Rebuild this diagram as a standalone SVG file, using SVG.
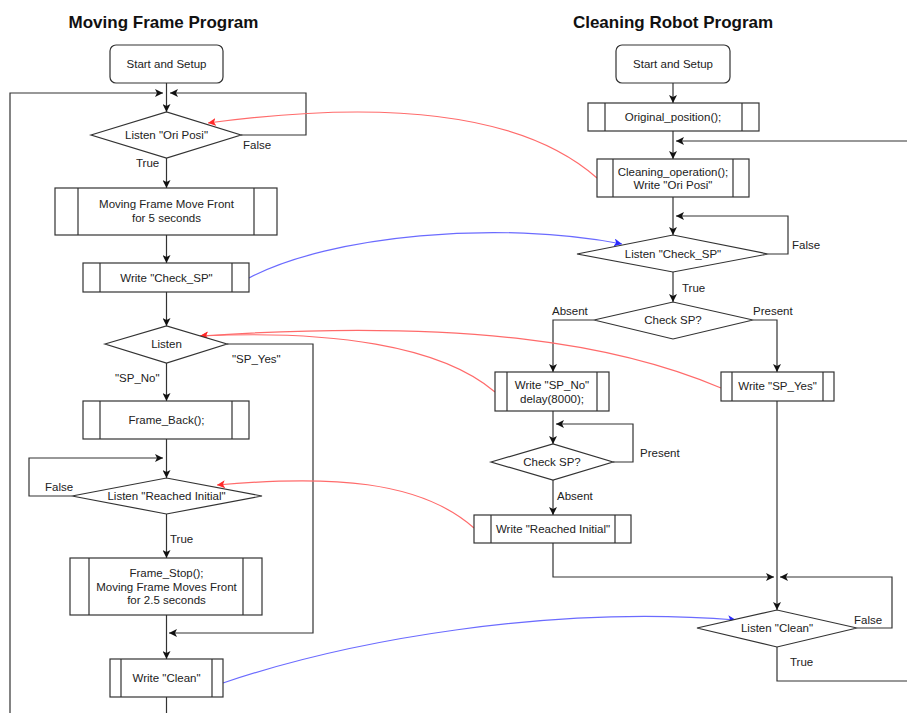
<svg xmlns="http://www.w3.org/2000/svg" width="907" height="713" viewBox="0 0 907 713">
  <style>
    .shape { fill: #ffffff; stroke: #333333; stroke-width: 1.2; }
    .bar { stroke: #333333; stroke-width: 1.2; fill: none; }
    .edge { fill: none; stroke: #333333; stroke-width: 1.2; }
    .lbl { font-family: "Liberation Sans", Arial, sans-serif; font-size: 11.5px; fill: #222222; }
    .mid { text-anchor: middle; }
    .title { font-family: "Liberation Sans", Arial, sans-serif; font-size: 17px; font-weight: bold; fill: #111111; text-anchor: middle; }
    .sig-red { fill: none; stroke: #ff6b6b; stroke-width: 1.2; }
    .sig-blue { fill: none; stroke: #6b6bff; stroke-width: 1.2; }
  </style>
  <defs>
    <marker id="arrow" viewBox="0 0 8 8" refX="8" refY="4" markerWidth="8" markerHeight="8" markerUnits="userSpaceOnUse" orient="auto">
      <path d="M0,0 L8,4 L0,8 L2,4 z" fill="#111111"/>
    </marker>
    <marker id="arrow-red" viewBox="0 0 8 8" refX="8" refY="4" markerWidth="8" markerHeight="8" markerUnits="userSpaceOnUse" orient="auto">
      <path d="M0,0 L8,4 L0,8 L2,4 z" fill="#ff2a2a"/>
    </marker>
    <marker id="arrow-blue" viewBox="0 0 8 8" refX="8" refY="4" markerWidth="8" markerHeight="8" markerUnits="userSpaceOnUse" orient="auto">
      <path d="M0,0 L8,4 L0,8 L2,4 z" fill="#2a2aff"/>
    </marker>
  </defs>

  <rect width="907" height="713" fill="#ffffff"/>

  <!-- titles -->
  <text class="title" x="163.5" y="28">Moving Frame Program</text>
  <text class="title" x="673" y="28">Cleaning Robot Program</text>

  <!-- flow connectors -->
  <g id="connectors">
    <!-- moving frame side -->
    <path class="edge" d="M166.5,83 V112" marker-end="url(#arrow)"/>
    <path class="edge" d="M10,720 V93 H163" marker-end="url(#arrow)"/>
    <path class="edge" d="M241,135 H306 V93 H170" marker-end="url(#arrow)"/>
    <path class="edge" d="M166.5,158 V188" marker-end="url(#arrow)"/>
    <path class="edge" d="M166.5,235 V263" marker-end="url(#arrow)"/>
    <path class="edge" d="M166.5,292 V326" marker-end="url(#arrow)"/>
    <path class="edge" d="M166.5,363 V401" marker-end="url(#arrow)"/>
    <path class="edge" d="M227,344 H313 V633 H169" marker-end="url(#arrow)"/>
    <path class="edge" d="M166.5,439 V478" marker-end="url(#arrow)"/>
    <path class="edge" d="M72,496 H29 V458 H163" marker-end="url(#arrow)"/>
    <path class="edge" d="M166.5,514 V558" marker-end="url(#arrow)"/>
    <path class="edge" d="M166.5,615 V659" marker-end="url(#arrow)"/>
    <path class="edge" d="M166.5,697 V720"/>

    <!-- cleaning robot side -->
    <path class="edge" d="M673,83 V103" marker-end="url(#arrow)"/>
    <path class="edge" d="M673,131 V159" marker-end="url(#arrow)"/>
    <path class="edge" d="M920,141 H676" marker-end="url(#arrow)"/>
    <path class="edge" d="M673,197 V235" marker-end="url(#arrow)"/>
    <path class="edge" d="M768,254 H788 V216 H676" marker-end="url(#arrow)"/>
    <path class="edge" d="M673,272 V302" marker-end="url(#arrow)"/>
    <path class="edge" d="M594,320 H553 V372" marker-end="url(#arrow)"/>
    <path class="edge" d="M753,320 H777 V372" marker-end="url(#arrow)"/>
    <path class="edge" d="M553,411 V444" marker-end="url(#arrow)"/>
    <path class="edge" d="M613,462 H633 V424 H556" marker-end="url(#arrow)"/>
    <path class="edge" d="M553,480 V515" marker-end="url(#arrow)"/>
    <path class="edge" d="M553,543 V577 H774" marker-end="url(#arrow)"/>
    <path class="edge" d="M777,401 V610" marker-end="url(#arrow)"/>
    <path class="edge" d="M857,628 H892 V577 H780" marker-end="url(#arrow)"/>
    <path class="edge" d="M777,647 V681 H920"/>

    <!-- messages between the two programs -->
    <path class="sig-red" d="M597,178 C520,110 380,100 208,123" marker-end="url(#arrow-red)"/>
    <path class="sig-blue" d="M249,278 C330,235 500,220 622,244" marker-end="url(#arrow-blue)"/>
    <path class="sig-red" d="M721,388 C620,345 470,318 200,336" marker-end="url(#arrow-red)"/>
    <path class="sig-red" d="M495,392 C440,345 330,330 200,336" marker-end="url(#arrow-red)"/>
    <path class="sig-red" d="M474,528 C420,480 330,475 217,485" marker-end="url(#arrow-red)"/>
    <path class="sig-blue" d="M223,683 C350,640 550,605 736,620" marker-end="url(#arrow-blue)"/>
  </g>

  <!-- branch labels -->
  <g id="edge-labels">
    <text class="lbl" x="243" y="149">False</text>
    <text class="lbl" x="136" y="167">True</text>
    <text class="lbl" x="232" y="363">"SP_Yes"</text>
    <text class="lbl" x="115" y="382">"SP_No"</text>
    <text class="lbl" x="45" y="491">False</text>
    <text class="lbl" x="170" y="543">True</text>
    <text class="lbl" x="792" y="249">False</text>
    <text class="lbl" x="682" y="292">True</text>
    <text class="lbl" x="552" y="315">Absent</text>
    <text class="lbl" x="753" y="315">Present</text>
    <text class="lbl" x="640" y="457">Present</text>
    <text class="lbl" x="557" y="500">Absent</text>
    <text class="lbl" x="854" y="624">False</text>
    <text class="lbl" x="790" y="666">True</text>
  </g>

  <!-- Moving Frame Program nodes -->
  <g id="mf-start">
    <rect class="shape" x="110" y="45" width="113" height="38" rx="6"/>
    <text class="lbl mid" x="166.5" y="68">Start and Setup</text>
  </g>
  <g id="mf-listen-ori">
    <polygon class="shape" points="91,135 166.5,112 241,135 166.5,158"/>
    <text class="lbl mid" x="166.5" y="139">Listen "Ori Posi"</text>
  </g>
  <g id="mf-move-front">
    <rect class="shape" x="55" y="188" width="222" height="47"/>
    <path class="bar" d="M78,188 V235 M254,188 V235"/>
    <text class="lbl mid" x="166.5" y="208">Moving Frame Move Front</text>
    <text class="lbl mid" x="166.5" y="222">for 5 seconds</text>
  </g>
  <g id="mf-write-check">
    <rect class="shape" x="83" y="263" width="166" height="29"/>
    <path class="bar" d="M100,263 V292 M232,263 V292"/>
    <text class="lbl mid" x="166.5" y="282">Write "Check_SP"</text>
  </g>
  <g id="mf-listen">
    <polygon class="shape" points="105,344 166.5,326 227,344 166.5,363"/>
    <text class="lbl mid" x="166.5" y="348">Listen</text>
  </g>
  <g id="mf-frame-back">
    <rect class="shape" x="83" y="401" width="166" height="38"/>
    <path class="bar" d="M100,401 V439 M232,401 V439"/>
    <text class="lbl mid" x="166.5" y="424">Frame_Back();</text>
  </g>
  <g id="mf-listen-reached">
    <polygon class="shape" points="72,496 166.5,478 262,496 166.5,514"/>
    <text class="lbl mid" x="166.5" y="500">Listen "Reached Initial"</text>
  </g>
  <g id="mf-frame-stop">
    <rect class="shape" x="70" y="558" width="192" height="57"/>
    <path class="bar" d="M89,558 V615 M243,558 V615"/>
    <text class="lbl mid" x="166.5" y="577">Frame_Stop();</text>
    <text class="lbl mid" x="166.5" y="591">Moving Frame Moves Front</text>
    <text class="lbl mid" x="166.5" y="604">for 2.5 seconds</text>
  </g>
  <g id="mf-write-clean">
    <rect class="shape" x="110" y="659" width="113" height="38"/>
    <path class="bar" d="M121,659 V697 M212,659 V697"/>
    <text class="lbl mid" x="166.5" y="682">Write "Clean"</text>
  </g>

  <!-- Cleaning Robot Program nodes -->
  <g id="cr-start">
    <rect class="shape" x="616" y="45" width="114" height="38" rx="6"/>
    <text class="lbl mid" x="673" y="68">Start and Setup</text>
  </g>
  <g id="cr-original">
    <rect class="shape" x="588" y="103" width="171" height="28"/>
    <path class="bar" d="M605,103 V131 M742,103 V131"/>
    <text class="lbl mid" x="673" y="121">Original_position();</text>
  </g>
  <g id="cr-cleaning">
    <rect class="shape" x="597" y="159" width="152" height="38"/>
    <path class="bar" d="M613,159 V197 M733,159 V197"/>
    <text class="lbl mid" x="673" y="176">Cleaning_operation();</text>
    <text class="lbl mid" x="673" y="189">Write "Ori Posi"</text>
  </g>
  <g id="cr-listen-check">
    <polygon class="shape" points="577,254 673,235 768,254 673,272"/>
    <text class="lbl mid" x="673" y="258">Listen "Check_SP"</text>
  </g>
  <g id="cr-check-sp">
    <polygon class="shape" points="594,320 673,302 753,320 673,339"/>
    <text class="lbl mid" x="673" y="324">Check SP?</text>
  </g>
  <g id="cr-write-sp-no">
    <rect class="shape" x="495" y="372" width="114" height="39"/>
    <path class="bar" d="M507,372 V411 M597,372 V411"/>
    <text class="lbl mid" x="552" y="389">Write "SP_No"</text>
    <text class="lbl mid" x="552" y="403">delay(8000);</text>
  </g>
  <g id="cr-write-sp-yes">
    <rect class="shape" x="721" y="372" width="113" height="29"/>
    <path class="bar" d="M732,372 V401 M823,372 V401"/>
    <text class="lbl mid" x="777.5" y="390">Write "SP_Yes"</text>
  </g>
  <g id="cr-check-sp-2">
    <polygon class="shape" points="491,462 553,444 613,462 553,480"/>
    <text class="lbl mid" x="552" y="466">Check SP?</text>
  </g>
  <g id="cr-write-reached">
    <rect class="shape" x="474" y="515" width="157" height="28"/>
    <path class="bar" d="M491,515 V543 M615,515 V543"/>
    <text class="lbl mid" x="553" y="533">Write "Reached Initial"</text>
  </g>
  <g id="cr-listen-clean">
    <polygon class="shape" points="697,628 777,610 857,628 777,647"/>
    <text class="lbl mid" x="777" y="632">Listen "Clean"</text>
  </g>
</svg>
